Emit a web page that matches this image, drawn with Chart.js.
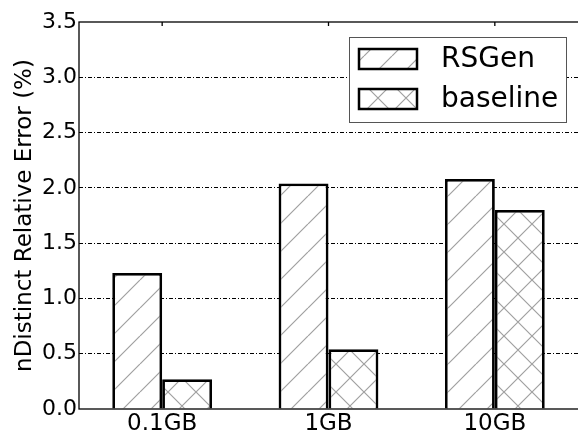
<!DOCTYPE html>
<html>
<head>
<meta charset="utf-8">
<script src="https://cdn.jsdelivr.net/npm/chart.js@4/dist/chart.umd.min.js"></script>
<style>
  html, body { margin: 0; padding: 0; background: #fff; overflow: hidden; }
  #wrap { width: 578px; height: 435px; }
</style>
</head>
<body>
<div id="wrap"><canvas id="chart" width="578" height="435"></canvas></div>
<script>
const categories = ['0.1GB', '1GB', '10GB'];
const seriesNames = ['RSGen', 'baseline'];
const rsgenValues = [1.23, 2.04, 2.08];
const baselineValues = [0.27, 0.54, 1.80];
const yTicks = [0, 0.5, 1.0, 1.5, 2.0, 2.5, 3.0, 3.5];

const FONT = 'DejaVu Sans';

// hatch fills like matplotlib '/' and 'x'
function hatch(kind) {
    const p = 28;
    const c = document.createElement('canvas');
    c.width = p; c.height = p;
    const g = c.getContext('2d');
    g.fillStyle = '#fff';
    g.fillRect(0, 0, p, p);
    g.strokeStyle = '#a0a0a0';
    g.lineWidth = 1.2;
    g.beginPath();
    for (let k = -1; k <= 1; k++) {
        g.moveTo(k * p, p); g.lineTo(k * p + p, 0);
        if (kind === 'x') { g.moveTo(k * p, 0); g.lineTo(k * p + p, p); }
    }
    g.stroke();
    return g.createPattern(c, 'repeat');
}

const ctx = document.getElementById('chart');
const fills = [hatch('/'), hatch('x')];

const frame = {
    id: 'frame',
    afterDraw(chart) {
        const { ctx, chartArea: a, scales } = chart;
        ctx.save();
        ctx.strokeStyle = '#000';
        ctx.lineWidth = 1.3;
        ctx.strokeRect(a.left, a.top, a.right - a.left + 2, a.bottom - a.top);
        // inward ticks on top spine
        ctx.beginPath();
        categories.forEach((c, i) => {
            const x = scales.x.getPixelForValue(i);
            ctx.moveTo(x, a.top); ctx.lineTo(x, a.top + 4);
        });
        ctx.stroke();

        // legend box
        const lx = 349, ly = 37, lw = 217, lh = 85;
        ctx.fillStyle = '#fff';
        ctx.fillRect(lx, ly, lw, lh);
        ctx.strokeStyle = '#555';
        ctx.lineWidth = 1;
        ctx.strokeRect(lx + 0.5, ly + 0.5, lw, lh);
        seriesNames.forEach((name, i) => {
            const cy = 59 + i * 40;
            ctx.fillStyle = fills[i];
            ctx.fillRect(359, cy - 10, 58, 20);
            ctx.strokeStyle = '#000';
            ctx.lineWidth = 2.5;
            ctx.strokeRect(359, cy - 10, 58, 20);
            ctx.fillStyle = '#000';
            ctx.font = '28px "' + FONT + '"';
            ctx.textBaseline = 'middle';
            ctx.fillText(name, 441, cy + 1);
        });
        ctx.restore();
    }
};

new Chart(ctx, {
    type: 'bar',
    data: {
        labels: categories,
        datasets: [
            { label: seriesNames[0], data: rsgenValues, backgroundColor: fills[0], borderColor: '#000', borderWidth: 2.8 },
            { label: seriesNames[1], data: baselineValues, backgroundColor: fills[1], borderColor: '#000', borderWidth: 2.8 }
        ]
    },
    options: {
        responsive: false,
        animation: false,
        layout: { padding: { top: 22, right: 0, left: 0, bottom: 0 } },
        plugins: { legend: { display: false }, tooltip: { enabled: false } },
        datasets: { bar: { categoryPercentage: 0.6, barPercentage: 1.0 } },
        scales: {
            x: {
                grid: { display: false, drawTicks: false },
                border: { display: false },
                ticks: { color: '#000', font: { family: FONT, size: 23 }, padding: 1, maxRotation: 0 },
                afterFit: s => { s.height = 26; }
            },
            y: {
                min: 0,
                max: 3.5,
                z: 1,
                afterBuildTicks: s => { s.ticks = yTicks.map(v => ({ value: v })); },
                grid: {
                    color: c => (c.tick.value === 0 || c.tick.value === 3.5) ? 'rgba(0,0,0,0)' : '#000',
                    lineWidth: 1,
                    drawTicks: false
                },
                border: { display: false, dash: [4, 2, 1, 2] },
                ticks: {
                    color: '#000',
                    font: { family: FONT, size: 22 },
                    padding: 2,
                    callback: v => v.toFixed(1)
                },
                title: {
                    display: true,
                    text: 'nDistinct Relative Error (%)',
                    color: '#000',
                    font: { family: FONT, size: 23 },
                    padding: { top: 11, bottom: 0 }
                },
                afterFit: s => { s.width = 79; }
            }
        }
    },
    plugins: [frame]
});
</script>
</body>
</html>
